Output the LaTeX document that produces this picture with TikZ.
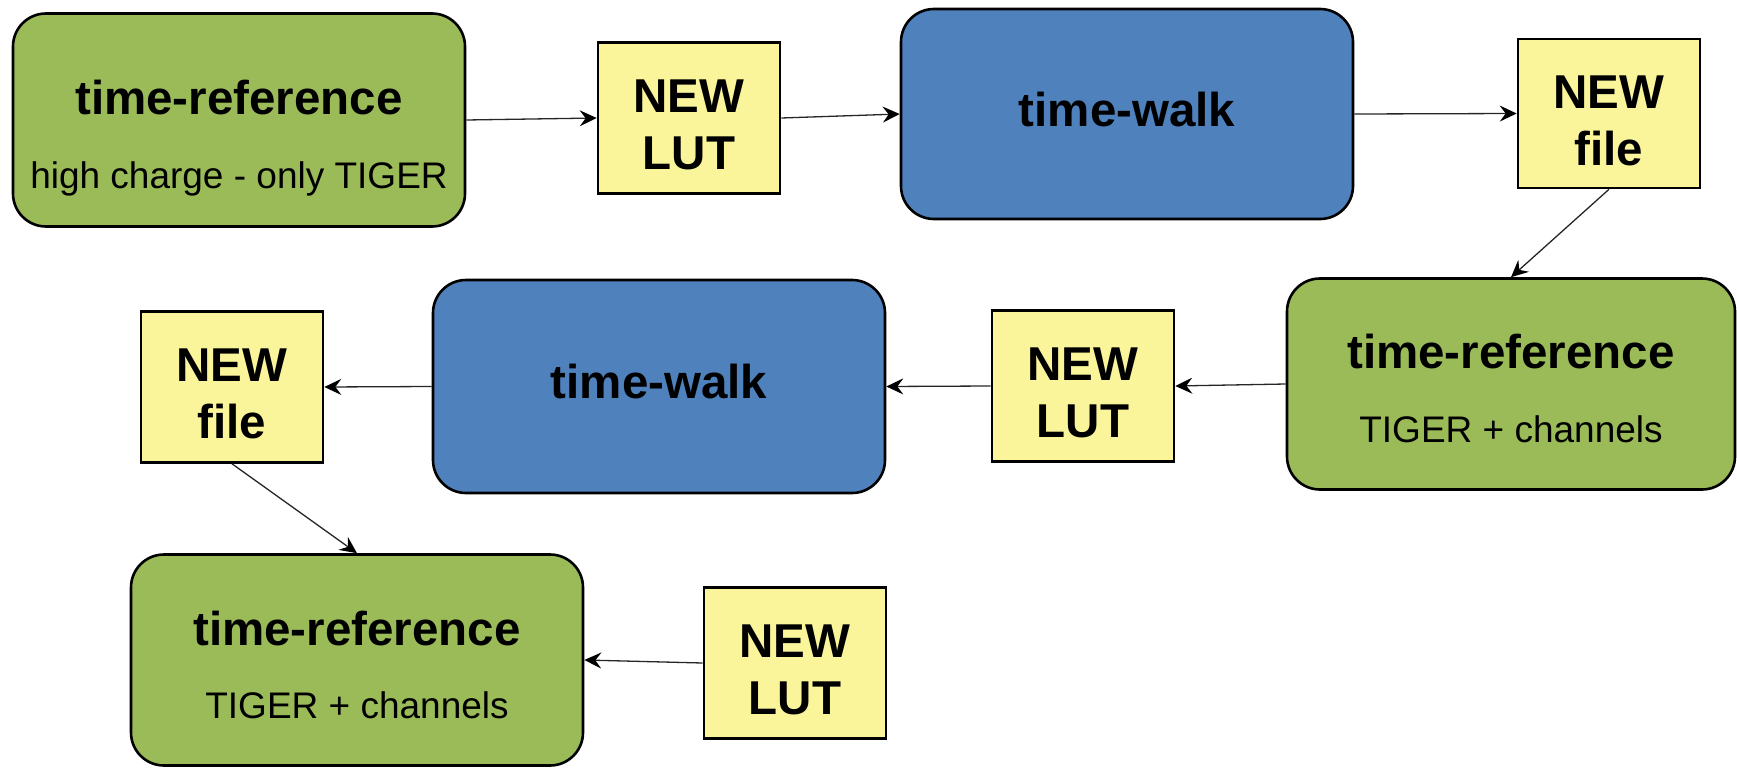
\documentclass[tikz,border=0pt]{standalone}
\usepackage{fontspec}
\setmainfont{Liberation Sans}
\usetikzlibrary{arrows.meta}
\definecolor{grn}{HTML}{9BBB59}
\definecolor{blu}{HTML}{4F81BD}
\definecolor{ylw}{HTML}{FAF49A}
\tikzset{
  bigbox/.style={draw=black, line width=2.6pt, rounded corners=33pt, minimum width=452pt, minimum height=213pt, inner sep=0pt},
  greenbox/.style={bigbox, fill=grn},
  bluebox/.style={bigbox, fill=blu},
  ylwbox/.style={draw=black, line width=2.6pt, fill=ylw, minimum width=182pt, minimum height=151pt, inner sep=0pt},
  ylwtxt/.style={inner sep=0pt, align=center, font=\fontsize{47.5}{57}\selectfont\bfseries},
  ttl/.style={font=\fontsize{47.5}{57}\selectfont\bfseries, anchor=base, inner sep=0pt},
  subt/.style={font=\fontsize{37}{44}\selectfont, anchor=base, inner sep=0pt},
  arr/.style={draw=black!85, line width=1.3pt, -{Stealth[length=17pt,width=16pt,inset=6pt,black]}}
}
\begin{document}
\begin{tikzpicture}[x=1pt,y=-1pt]
\useasboundingbox (0,0) rectangle (1737,768);
% row 1
\node[greenbox] (tr1) at (239,120) {};
\node[ttl] (tr1t) at (239,114) {time-reference};
\node[subt] (tr1s) at (239,188) {high charge - only TIGER};
\node[ylwbox] (lut1) at (689,118) {};
\node[ylwtxt] (lut1t) at ([yshift=-7pt]lut1.center) {NEW\\LUT};
\node[bluebox, minimum height=210pt] (tw1) at (1127,114) {};
\node[ttl] (tw1t) at (1127,126) {time-walk};
\node[ylwbox, minimum height=149pt] (file1) at (1609,113.5) {};
\node[ylwtxt] (file1t) at ([yshift=-7pt]file1.center) {NEW\\file};
% row 2
\node[greenbox, minimum width=448pt, minimum height=211pt] (tr2) at (1511,384) {};
\node[ttl] (tr2t) at (1511,368) {time-reference};
\node[subt] (tr2s) at (1511,442) {TIGER + channels};
\node[ylwbox] (lut2) at (1083,386) {};
\node[ylwtxt] (lut2t) at ([yshift=-7pt]lut2.center) {NEW\\LUT};
\node[bluebox] (tw2) at (659,386.5) {};
\node[ttl] (tw2t) at (659,398) {time-walk};
\node[ylwbox] (file2) at (232,387) {};
\node[ylwtxt] (file2t) at ([yshift=-7pt]file2.center) {NEW\\file};
% row 3
\node[greenbox, minimum height=211pt] (tr3) at (357,660) {};
\node[ttl] (tr3t) at (357,645) {time-reference};
\node[subt] (tr3s) at (357,718) {TIGER + channels};
\node[ylwbox] (lut3) at (795,663) {};
\node[ylwtxt] (lut3t) at ([yshift=-7pt]lut3.center) {NEW\\LUT};
% arrows
\draw[arr] (tr1.east) -- (lut1.west);
\draw[arr] (lut1.east) -- (tw1.west);
\draw[arr] (tw1.east) -- (file1.west);
\draw[arr] (file1.south) -- (tr2.north);
\draw[arr] (tr2.west) -- (lut2.east);
\draw[arr] (lut2.west) -- (tw2.east);
\draw[arr] (tw2.west) -- (file2.east);
\draw[arr] (file2.south) -- (tr3.north);
\draw[arr] (lut3.west) -- (tr3.east);
\end{tikzpicture}
\end{document}
